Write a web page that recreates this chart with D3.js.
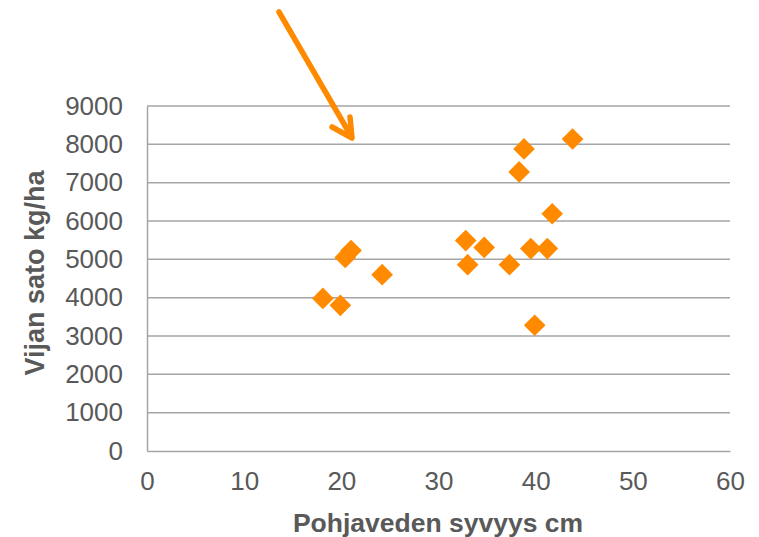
<!DOCTYPE html>
<html><head><meta charset="utf-8">
<script src="https://cdn.jsdelivr.net/npm/d3@7"></script>
<style>html,body{margin:0;padding:0;background:#fff;}svg{display:block;}</style>
</head><body>
<svg id="c" width="759" height="537"></svg>
<script>
const depth = [18.1, 19.9, 20.4, 21.0, 24.2, 32.8, 33.0, 34.7, 37.3, 38.3, 38.8, 39.5, 39.9, 41.2, 41.7, 43.8];
const yieldKg = [3980, 3800, 5050, 5230, 4600, 5490, 4860, 5310, 4860, 7280, 7880, 5280, 3280, 5280, 6190, 8140];
const xTicks = [0, 10, 20, 30, 40, 50, 60];
const yTicks = [0, 1000, 2000, 3000, 4000, 5000, 6000, 7000, 8000, 9000];
const xTitle = "Pohjaveden syvyys cm";
const yTitle = "Vijan sato kg/ha";

const svg = d3.select("#c");
const x = d3.scaleLinear().domain([0, 60]).range([147, 730]);
const y = d3.scaleLinear().domain([0, 9000]).range([451, 106]);
const grid = "#a5a5a5", txt = "#595959", orange = "#ff8a00";
const font = "'Liberation Sans', Arial, sans-serif";

// gridlines
svg.append("g").selectAll("line").data(yTicks.filter(d => d > 0)).join("line")
  .attr("x1", x(0)).attr("x2", x(60))
  .attr("y1", d => y(d)).attr("y2", d => y(d))
  .attr("stroke", grid).attr("stroke-width", 1.5);

// axes
const yAxis = svg.append("g").attr("transform", `translate(${x(0)},0)`)
  .call(d3.axisLeft(y).tickValues(yTicks).tickSize(0).tickPadding(24).tickFormat(d3.format("d")));
const xAxis = svg.append("g").attr("transform", `translate(0,${y(0)})`)
  .call(d3.axisBottom(x).tickValues(xTicks).tickSize(0).tickPadding(21).tickFormat(d3.format("d")));
[yAxis, xAxis].forEach(a => {
  a.select(".domain").attr("stroke", grid).attr("stroke-width", 1.5);
  a.selectAll("text").attr("fill", txt).attr("font-family", font).attr("font-size", 26);
});

// arrow
const arrow = svg.append("g").attr("fill", "none").attr("stroke", orange)
  .attr("stroke-width", 5.5).attr("stroke-linecap", "round").attr("stroke-linejoin", "round");
arrow.append("path").attr("d", "M279,12 L351,136");
arrow.append("path").attr("d", "M332,127 L352,138 L350,117");

// points
const sym = d3.symbol().type(d3.symbolSquare).size(235);
svg.append("g").selectAll("path").data(depth.map((d, i) => [d, yieldKg[i]])).join("path")
  .attr("d", sym)
  .attr("transform", d => `translate(${x(d[0])},${y(d[1])}) rotate(45)`)
  .attr("fill", orange);

// titles
svg.append("text").attr("x", 438).attr("y", 532).attr("text-anchor", "middle")
  .attr("font-family", font).attr("font-weight", "bold").attr("font-size", 26.5)
  .attr("fill", txt).text(xTitle);
svg.append("text").attr("transform", "translate(44,273) rotate(-90)").attr("text-anchor", "middle")
  .attr("font-family", font).attr("font-weight", "bold").attr("font-size", 27)
  .attr("fill", txt).text(yTitle);
</script>
</body></html>
